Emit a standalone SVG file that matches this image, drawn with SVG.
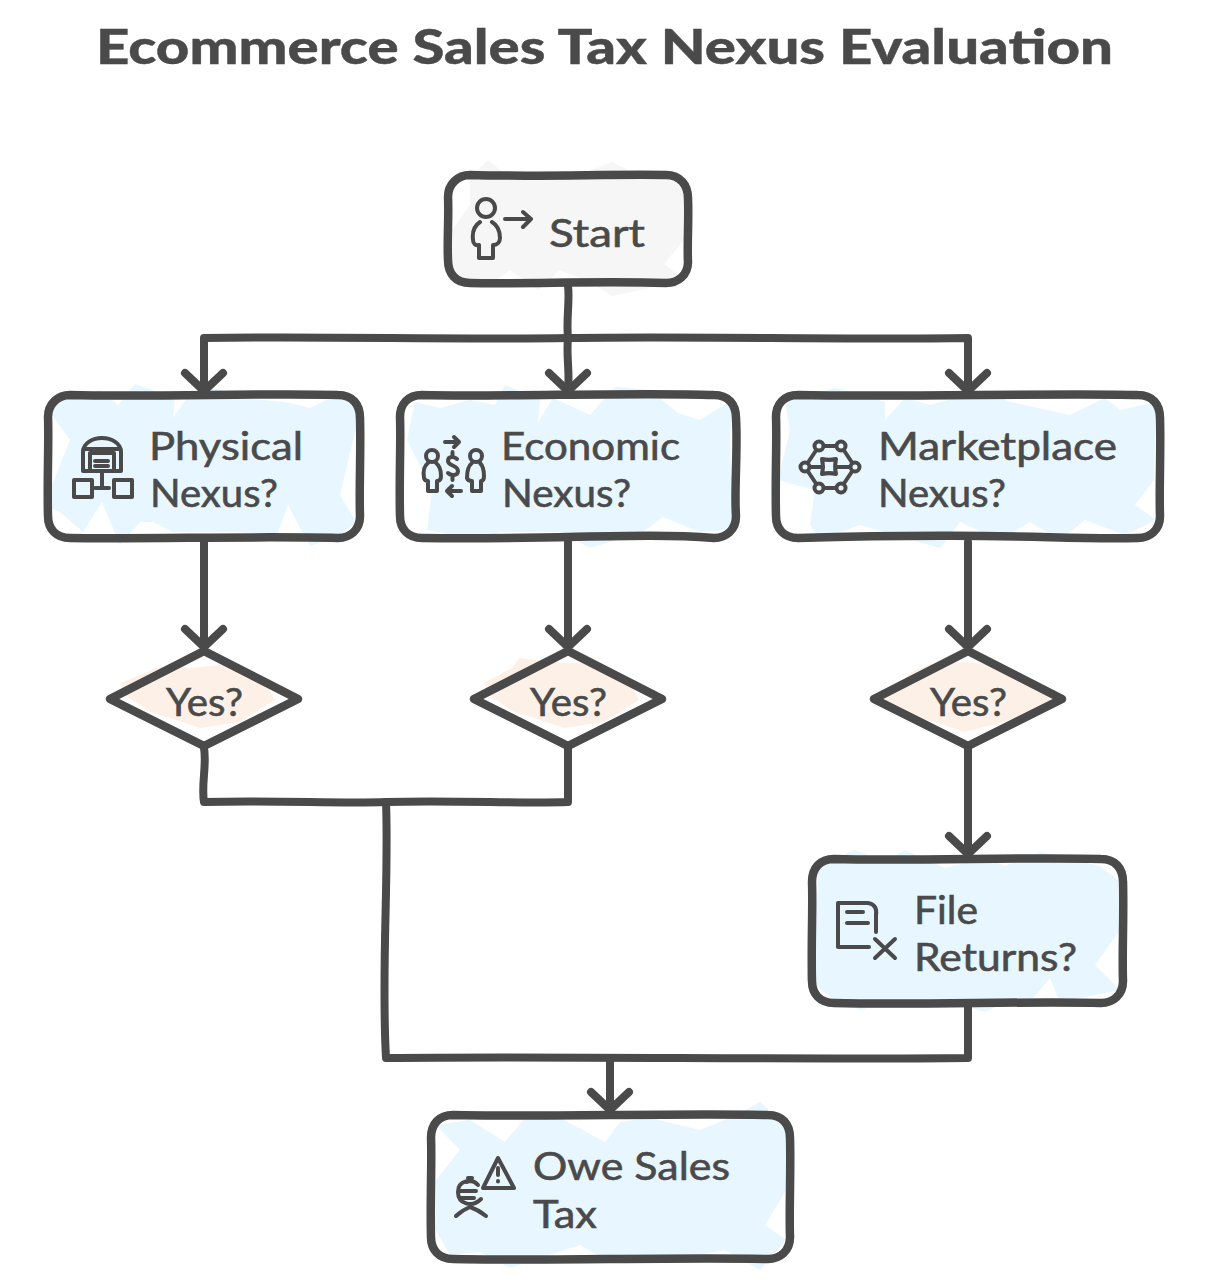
<svg xmlns="http://www.w3.org/2000/svg" width="1208" height="1283" viewBox="0 0 1208 1283">
<style>
.box{fill:none;stroke:#4a4a4a;stroke-width:8.5;stroke-linejoin:round;stroke-linecap:round}
.ln{fill:none;stroke:#4a4a4a;stroke-width:8;stroke-linejoin:round;stroke-linecap:round}
.ic{fill:none;stroke:#4a4a4a;stroke-width:4;stroke-linejoin:round;stroke-linecap:round}
.blue{fill:#e7f6ff}.grey{fill:#f6f6f6}.peach{fill:#fdf1e7}
text{font-family:"Lato","Noto Sans",sans-serif;fill:#4a4a4a;stroke:#4a4a4a;stroke-width:.6}
.t{font-size:38px}
.title{font-size:48px;font-weight:900;stroke-width:.4}
</style>
<rect width="1208" height="1283" fill="#ffffff"/>
<text class="title" x="96" y="64" textLength="1017" lengthAdjust="spacingAndGlyphs">Ecommerce Sales Tax Nexus Evaluation</text>

<g id="start">
<path class="grey" d="M470 178L488 160L510 178L570 178L612 162L640 176L684 182L684 240L664 264L684 280L650 288L612 296L590 282L560 270L538 290L510 270L490 285L452 278L452 230L470 205Z"/>
</g>
<g id="physical-fill">
<path class="blue" d="M55 400L100 390L118 405L135 384L175 398L173 418L187 398L215 388L240 398L285 402L310 408L330 398L356 402L356 428L340 495L356 522L340 536L310 546L288 505L277 535L240 532L173 532L153 522L140 522L120 545L102 502L83 532L60 512L44 505L70 440L52 415Z"/>
</g>
<g id="economic-fill">
<path class="blue" d="M415 402L440 408L470 400L495 405L505 385L540 400L538 422L553 398L590 415L615 387L650 390L678 413L700 420L732 400L730 440L732 518L713 500L743 528L700 532L663 517L643 532L590 548L560 532L500 532L480 540L427 530L432 490L407 440Z"/>
</g>
<g id="marketplace-fill">
<path class="blue" d="M785 402L835 388L885 402L885 420L905 398L930 405L985 390L1010 402L1070 415L1105 398L1120 410L1156 402L1154 480L1135 505L1156 520L1125 535L1085 520L1060 540L1030 522L1000 540L960 522L940 548L860 525L820 540L810 525L815 490L778 480L790 430Z"/>
</g>
<g id="file-fill">
<path class="blue" d="M818 865L855 850L885 862L905 850L945 868L985 858L1005 866L1040 852L1100 866L1118 880L1120 930L1095 965L1120 990L1060 1002L1050 978L1030 1002L1010 1000L985 1012L950 1002L920 1008L890 1002L860 1010L835 1000L865 968L835 1000L815 985L806 980L815 920L818 885Z"/>
</g>
<g id="owe-fill">
<path class="blue" d="M436 1125L470 1120L505 1142L525 1118L560 1118L605 1142L620 1122L650 1118L700 1130L735 1116L760 1102L786 1125L786 1190L765 1225L786 1240L760 1270L725 1250L690 1256L640 1256L610 1262L580 1245L540 1258L510 1268L480 1252L450 1255L430 1220L432 1185L460 1150Z"/>
</g>

<g id="connectors">
<path class="ln" d="M568 286C570 300 566 320 568 338C566 355 570 372 568 390"/>
<path class="ln" d="M204 390V338C330 336 450 340 568 338C700 336 840 340 968 338V390"/>
<path class="ln" d="M185 373L204 391L223 373M549 373L568 391L587 373M949 373L968 391L987 373"/>
<path class="ln" d="M204 542V647M568 542V647M968 542V647"/>
<path class="ln" d="M185 629L204 647L223 629M549 629L568 647L587 629M949 629L968 647L987 629"/>
<path class="ln" d="M204 748C207 765 201 785 204 802C280 800 340 804 386 802C460 800 520 804 568 802V748"/>
<path class="ln" d="M386 802C389 880 381 970 386 1058C560 1056 800 1060 968 1058V1005"/>
<path class="ln" d="M968 748V855M949 836L968 854L987 836"/>
<path class="ln" d="M610 1058V1110M591 1092L610 1110L629 1092"/>
</g>

<g id="start-node">
<path class="box" d="M470 175C540 177 610 174 666 175C680 175 688 185 688 198C689 220 687 245 688 262C688 275 678 283 666 283C600 281 530 284 470 283C456 283 448 274 448 260C447 240 449 215 448 197C448 184 458 175 470 175Z"/>
<g class="ic"><circle cx="486" cy="208" r="9"/><path d="M480 222C474 226 472 232 473 240C473 244 476 246 479 245V258H493V245C497 245 500 242 500 238C500 230 497 225 492 222"/><path d="M505 219H531M523 212L531 219L523 227"/></g>
<text class="t" x="549" y="247" textLength="96" lengthAdjust="spacingAndGlyphs">Start</text>
</g>

<g id="physical">
<path class="box" d="M70 395C150 397 270 393 338 395C352 395 360 404 360 418C361 450 359 490 360 516C360 530 350 538 338 538C260 536 150 539 70 538C56 538 48 529 48 516C47 480 49 440 48 417C48 404 58 395 70 395Z"/>
<g class="ic"><path d="M83 471V452C83 443 93 438 102 438C111 438 121 443 121 452V471Z"/><path d="M84 449H120M90 471V453H114V471M95 461H108M95 466H108"/><path d="M102 471V488M95 488H109"/><path d="M74 480H92V497H74ZM114 480H132V497H114Z"/></g>
<text class="t" x="149" y="460" textLength="154" lengthAdjust="spacingAndGlyphs">Physical</text>
<text class="t" x="150" y="507" textLength="128" lengthAdjust="spacingAndGlyphs">Nexus?</text>
</g>

<g id="economic">
<path class="box" d="M422 395C500 397 640 392 714 395C728 395 736 404 736 418C738 450 734 490 736 516C736 530 726 538 714 538C640 532 560 540 422 538C408 538 400 529 400 516C399 480 401 440 400 417C400 404 408 395 422 395Z"/>
<g class="ic"><circle cx="432" cy="456" r="6"/><circle cx="476" cy="456" r="6"/><path d="M428 463C424 466 423 472 424 478C425 481 427 481 428 481V491H437V481C440 481 441 479 441 476C441 470 440 466 436 463"/><path d="M472 463C468 466 467 472 467 478C468 481 470 481 472 481V491H481V481C483 481 484 479 484 476C484 470 483 466 480 463"/><path d="M445 442H459M454 437L459 442L454 447M461 491H447M452 486L447 491L452 496"/><path d="M457 459C454 456 448 456 448 461C448 466 458 465 458 471C458 476 451 476 448 473M452.500 452V456M452.500 476V480"/></g>
<text class="t" x="501" y="460" textLength="179" lengthAdjust="spacingAndGlyphs">Economic</text>
<text class="t" x="502" y="507" textLength="129" lengthAdjust="spacingAndGlyphs">Nexus?</text>
</g>

<g id="marketplace">
<path class="box" d="M798 395C900 397 1060 393 1138 395C1152 395 1160 404 1160 418C1161 450 1159 490 1160 516C1160 530 1150 538 1138 538C1060 540 1000 532 798 538C784 538 776 529 776 516C775 480 777 440 776 417C776 404 784 395 798 395Z"/>
<g class="ic"><path d="M819 446H841L855 467L841 488H819L805 467Z"/><path d="M808 467H823M836 467H852"/><path d="M822 459C826 460 832 460 836 459C835 463 835 470 836 474C832 473 826 473 822 474C823 470 823 463 822 459Z"/><g class="blue"><circle cx="819" cy="446" r="4.500"/><circle cx="841" cy="446" r="4.500"/><circle cx="855" cy="467" r="4.500"/><circle cx="841" cy="488" r="4.500"/><circle cx="819" cy="488" r="4.500"/><circle cx="805" cy="467" r="4.500"/></g></g>
<text class="t" x="878" y="460" textLength="239" lengthAdjust="spacingAndGlyphs">Marketplace</text>
<text class="t" x="878" y="507" textLength="128" lengthAdjust="spacingAndGlyphs">Nexus?</text>
</g>

<g id="d1">
<path class="peach" d="M120 683L148 672L155 668L175 665L190 668L230 664L268 686L275 700L240 722L200 728L170 718L150 712L125 695Z"/>
<path class="box" d="M204 651L298 699L204 746L110 699Z"/>
<text class="t" x="166" y="716" textLength="77" lengthAdjust="spacingAndGlyphs">Yes?</text>
</g>
<g id="d2">
<path class="peach" d="M484 683L512 668L519 658L554 662L594 664L632 686L639 700L604 722L564 728L534 718L514 712L489 695Z"/>
<path class="box" d="M568 651L662 699L568 746L474 699Z"/>
<text class="t" x="530" y="716" textLength="77" lengthAdjust="spacingAndGlyphs">Yes?</text>
</g>
<g id="d3">
<path class="peach" d="M884 698L912 672L930 664L970 662L1010 668L1040 686L1062 702L1004 722L964 732L934 722L900 716Z"/>
<path class="box" d="M968 651L1062 699L968 746L874 699Z"/>
<text class="t" x="930" y="716" textLength="77" lengthAdjust="spacingAndGlyphs">Yes?</text>
</g>

<g id="file">
<path class="box" d="M834 859C910 861 1030 857 1101 859C1115 859 1123 868 1123 882C1124 915 1122 955 1123 981C1123 995 1113 1003 1101 1003C1030 1001 920 1005 834 1003C820 1003 812 994 812 981C811 945 813 905 812 882C812 868 820 859 834 859Z"/>
<g class="ic"><path d="M869 947H838V903H868C875 904 877 909 876 915V932"/><path d="M847 912H863M847 923H868M875 939L895 958M895 939L875 958"/></g>
<text class="t" x="914" y="924" textLength="64" lengthAdjust="spacingAndGlyphs">File</text>
<text class="t" x="914" y="971" textLength="163" lengthAdjust="spacingAndGlyphs">Returns?</text>
</g>

<g id="owe">
<path class="box" d="M453 1115C540 1117 680 1113 768 1115C782 1115 790 1124 790 1138C791 1170 789 1210 790 1237C790 1251 780 1259 768 1259C680 1257 540 1261 453 1259C439 1259 431 1250 431 1237C430 1200 432 1160 431 1138C431 1124 439 1115 453 1115Z"/>
<g class="ic"><path d="M498 1158L514 1188H483Z"/><path d="M498 1168V1175M498 1181V1181.500"/><path d="M478 1185C472 1178 458 1180 458 1192C458 1204 472 1208 481 1199M458 1191H476M460 1198H474M472 1178L468 1178M471 1180L467 1182"/><path d="M470 1207C465 1209 460 1212 456 1216M470 1207C476 1209 481 1212 486 1216"/></g>
<text class="t" x="533" y="1180" textLength="197" lengthAdjust="spacingAndGlyphs">Owe Sales</text>
<text class="t" x="533" y="1228" textLength="64" lengthAdjust="spacingAndGlyphs">Tax</text>
</g>
</svg>
